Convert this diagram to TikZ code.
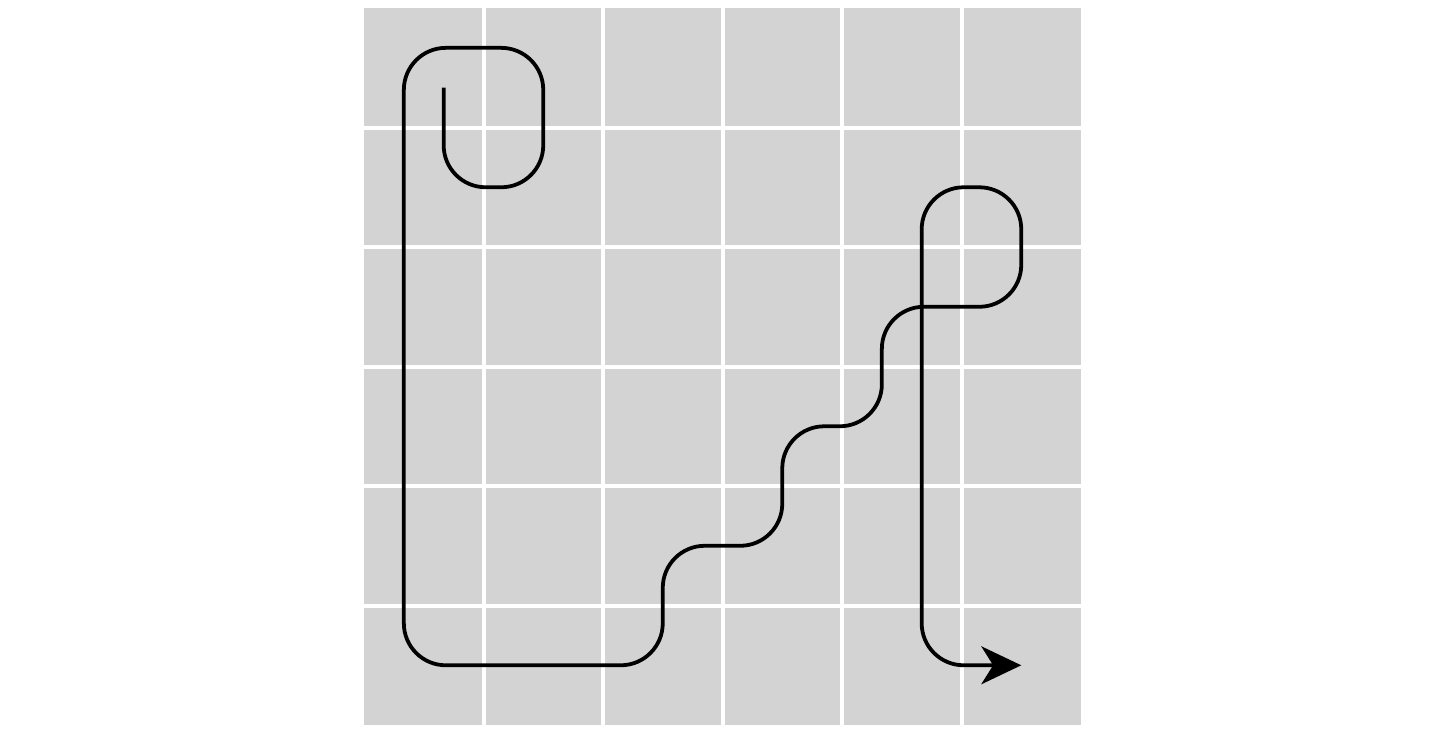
\documentclass[tikz,border=0pt]{standalone}
\usetikzlibrary{arrows.meta}
\definecolor{gridgray}{HTML}{D3D3D3}
\tikzset{
  cellgrid/.style={draw=white, line width=0.95pt},
  route/.style={draw=black, line width=0.9pt, rounded corners=10pt, -{Stealth[length=9.5pt,width=9pt,inset=2.8pt]}}
}
\begin{document}
\begin{tikzpicture}
\useasboundingbox (-3.046,-0.025) rectangle (9.071,6.067);
\fill[gridgray] (0,0) rectangle (6,6);
\foreach \i in {1,...,5} {
  \draw[cellgrid] (\i,0) -- (\i,6);
  \draw[cellgrid] (0,\i) -- (6,\i);
}
\coordinate (start) at (2/3,5+1/3);
\coordinate (goal) at (5.5,0.5);
\draw[route] (start) -- (2/3,4.5) -- (1.5,4.5) -- (1.5,5+2/3) -- (1/3,5+2/3)
  -- (1/3,0.5) -- (2.5,0.5) -- (2.5,1.5) -- (3.5,1.5) -- (3.5,2.5)
  -- (4+1/3,2.5) -- (4+1/3,3.5) -- (5.5,3.5) -- (5.5,4.5) -- (4+2/3,4.5)
  -- (4+2/3,0.5) -- (goal);
\end{tikzpicture}
\end{document}
